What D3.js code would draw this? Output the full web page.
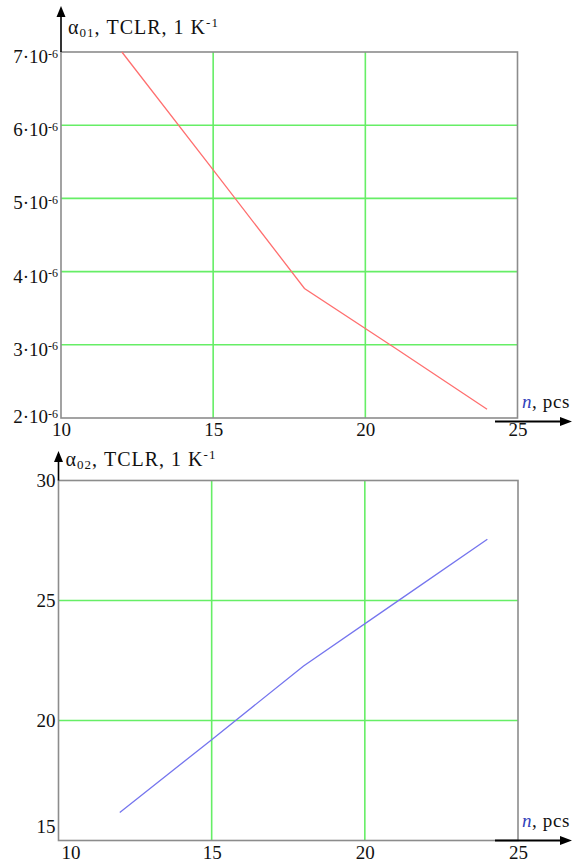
<!DOCTYPE html>
<html>
<head>
<meta charset="utf-8">
<script src="https://cdn.jsdelivr.net/npm/d3@7"></script>
<style>
    body { margin: 0; background: #fff; }
    svg text { font-family: "Liberation Serif", "Times New Roman", serif; fill: #111; }
</style>
</head>
<body>
<div id="chart"></div>
<script>
// n, pcs
const nValues = [12, 15, 18, 21, 24];
// alpha01, 1/K
const alpha01 = [7.0e-6, 5.39e-6, 3.77e-6, 2.95e-6, 2.12e-6];
// alpha02
const alpha02 = [16.17, 19.2, 22.27, 24.91, 27.55];

const xTicks = [10, 15, 20, 25];
const y1Ticks = [2e-6, 3e-6, 4e-6, 5e-6, 6e-6, 7e-6];
const y2Ticks = [15, 20, 25, 30];

const svg = d3.select('#chart')
    .append('svg')
    .attr('width', 573)
    .attr('height', 865);

const panels = [
    {
        box: { left: 61, right: 517.5, top: 52, bottom: 418 },
        yDomain: [2e-6, 7e-6],
        yTicks: y1Ticks,
        values: alpha01,
        color: '#ff6f6f',
        sub: '01',
        labelDy: '0.55em',
        firstLabelShift: -6,
        xArrowY: 421.5,
        yArrowTop: 6,
        titleY: 34,
        xLabelShift: 0,
        sci: true
    },
    {
        box: { left: 58.5, right: 518, top: 480.5, bottom: 840.5 },
        yDomain: [15, 30],
        yTicks: y2Ticks,
        values: alpha02,
        color: '#7575ee',
        sub: '02',
        labelDy: '0.32em',
        firstLabelShift: -14,
        xArrowY: 840.5,
        yArrowTop: 451,
        titleY: 466,
        xLabelShift: 12,
        sci: false
    }
];

panels.forEach(p => {
    const b = p.box;
    const x = d3.scaleLinear().domain([10, 25]).range([b.left, b.right]);
    const y = d3.scaleLinear().domain(p.yDomain).range([b.bottom, b.top]);
    const g = svg.append('g');

    // green grid
    g.selectAll('.hgrid')
        .data(p.yTicks.slice(1, -1))
        .enter()
        .append('line')
        .attr('x1', b.left).attr('x2', b.right)
        .attr('y1', d => y(d)).attr('y2', d => y(d))
        .style('stroke', '#66ee66').style('stroke-width', 1.6);
    g.selectAll('.vgrid')
        .data(xTicks.slice(1, -1))
        .enter()
        .append('line')
        .attr('x1', d => x(d)).attr('x2', d => x(d))
        .attr('y1', b.top).attr('y2', b.bottom)
        .style('stroke', '#66ee66').style('stroke-width', 1.6);

    // frame
    g.append('rect')
        .attr('x', b.left).attr('y', b.top)
        .attr('width', b.right - b.left).attr('height', b.bottom - b.top)
        .style('fill', 'none').style('stroke', '#8c8c8c').style('stroke-width', 1.6);

    // data line
    const line = d3.line()
        .x((d, i) => x(nValues[i]))
        .y(d => y(d));
    g.append('path')
        .datum(p.values)
        .attr('d', line)
        .style('fill', 'none')
        .style('stroke', p.color)
        .style('stroke-width', 1.3);

    // y axis labels
    const yAxis = d3.axisLeft(y).tickValues(p.yTicks).tickSize(0).tickPadding(3).tickFormat('');
    const ya = g.append('g').attr('transform', `translate(${b.left},0)`).call(yAxis);
    ya.select('.domain').remove();
    ya.selectAll('text')
        .style('font-size', '19px')
        .attr('dy', p.labelDy)
        .each(function (d, i) {
            const t = d3.select(this);
            if (i === 0) t.attr('y', p.firstLabelShift);
            if (p.sci) {
                t.append('tspan').text(Math.round(d * 1e6) + '\u00b710');
                t.append('tspan').attr('dy', '-0.45em').style('font-size', '12px').text('-6');
            } else {
                t.text(d);
            }
        });

    // x axis labels
    const xAxis = d3.axisBottom(x).tickValues(xTicks).tickSize(0).tickPadding(5).tickFormat(d => d);
    const xa = g.append('g').attr('transform', `translate(0,${b.bottom})`).call(xAxis);
    xa.select('.domain').remove();
    xa.selectAll('text')
        .style('font-size', '19px')
        .attr('x', (d, i) => i === 0 ? p.xLabelShift : 0);

    // arrows
    g.append('line')
        .attr('x1', b.left).attr('x2', b.left)
        .attr('y1', b.top).attr('y2', p.yArrowTop + 6)
        .style('stroke', '#000').style('stroke-width', 1.6);
    g.append('path')
        .attr('d', `M${b.left},${p.yArrowTop} L${b.left - 4.5},${p.yArrowTop + 11} L${b.left + 4.5},${p.yArrowTop + 11} Z`)
        .style('fill', '#000');
    g.append('line')
        .attr('x1', 495).attr('x2', 566)
        .attr('y1', p.xArrowY).attr('y2', p.xArrowY)
        .style('stroke', '#000').style('stroke-width', 1.8);
    g.append('path')
        .attr('d', `M572,${p.xArrowY} L560,${p.xArrowY - 4.5} L560,${p.xArrowY + 4.5} Z`)
        .style('fill', '#000');

    // y title
    const title = g.append('text')
        .attr('x', b.left + 7)
        .attr('y', p.titleY)
        .style('font-size', '20px')
        .style('letter-spacing', '1px');
    title.append('tspan').text('\u03b1');
    title.append('tspan').attr('dy', '3').style('font-size', '13px').text(p.sub);
    title.append('tspan').attr('dy', '-3').text(', TCLR, 1 K');
    title.append('tspan').attr('dy', '-7').style('font-size', '13px').text('-1');

    // x title
    const xt = g.append('text')
        .attr('x', 522)
        .attr('y', p.xArrowY - 14)
        .style('font-size', '19px')
        .style('letter-spacing', '0.6px');
    xt.append('tspan').style('font-style', 'italic').style('fill', '#3344bb').text('n');
    xt.append('tspan').text(', pcs');
});
</script>
</body>
</html>
